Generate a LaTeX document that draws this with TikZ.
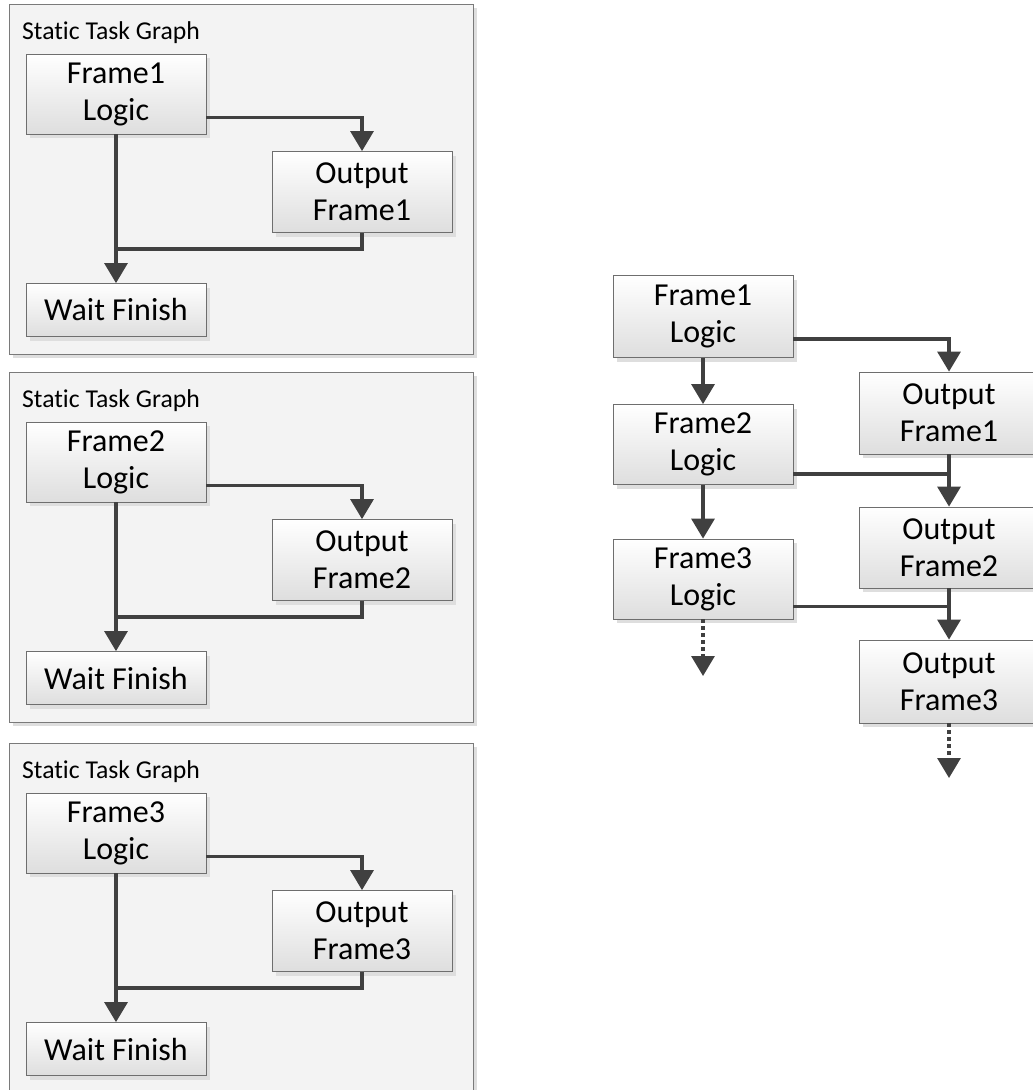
\documentclass[tikz,border=0pt]{standalone}
\usepackage{fontspec}
\setmainfont{Carlito}[Ligatures=NoCommon]
\usetikzlibrary{arrows.meta,shadows,calc}
\definecolor{linegray}{HTML}{404040}
\definecolor{boxedge}{HTML}{6E6E6E}
\definecolor{paneledge}{HTML}{7A7A7A}
\definecolor{panelfill}{HTML}{F3F3F3}
\definecolor{shade}{HTML}{DEDEDE}
\begin{document}
\begin{tikzpicture}[x=1pt,y=-1pt,
  panel/.style={draw=paneledge, line width=0.9pt, fill=panelfill,
    minimum width=464pt, minimum height=350pt, inner sep=0pt,
    drop shadow={shadow xshift=4pt, shadow yshift=-4pt, fill=shade, opacity=1}},
  title/.style={inner sep=0pt, font=\fontsize{25.7}{30}\selectfont},
  task/.style={draw=boxedge, line width=0.8pt, top color=white, bottom color=black!13,
    minimum width=180pt, inner sep=0pt, align=center,
    font=\fontsize{32}{37}\selectfont,
    drop shadow={shadow xshift=4pt, shadow yshift=-4pt, fill=shade, opacity=1}},
  link/.style={draw=linegray, line width=3.2pt},
  flow/.style={link, -{Triangle[width=23pt,length=20pt]}},
  cont/.style={flow, dash pattern=on 4pt off 3pt}]

\useasboundingbox (0,0) rectangle (1033,1090);
\fill[white] (0,0) rectangle (1033,1090);

% three static task graphs, one per frame
\foreach \k/\dy in {1/0,2/368,3/739}{
  \node[panel] (P\k) at (241,179+\dy) {};
  \node[title, anchor=base west] (T\k) at (22,39+\dy) {Static Task Graph};
  \node[task, minimum height=80pt] (L\k) at (116,94+\dy) {Frame\k\\Logic};
  \node[task, minimum height=81pt] (O\k) at (362,192+\dy) {Output\\Frame\k};
  \node[task, minimum height=53pt] (W\k) at (116,310+\dy) {Wait Finish};
  \coordinate (J\k) at (116,249+\dy);
  \draw[flow] ([yshift=17pt]L\k.south east) -| (O\k.north);
  \draw[flow] (L\k.south) -- (W\k.north);
  \draw[link] (O\k.south) |- (J\k);
}

% pipelined frames
\node[task, minimum height=82pt] (R1) at (703,316.5) {Frame1\\Logic};
\node[task, minimum height=82pt] (Q1) at (949,413) {Output\\Frame1};
\node[task, minimum height=80pt] (R2) at (703,444.5) {Frame2\\Logic};
\node[task, minimum height=81pt] (Q2) at (949,547.5) {Output\\Frame2};
\node[task, minimum height=80pt] (R3) at (703,579) {Frame3\\Logic};
\node[task, minimum height=83pt] (Q3) at (949,681.5) {Output\\Frame3};
\coordinate (E3) at (703,676);
\coordinate (F3) at (949,778);
\coordinate (M2) at ([yshift=11pt]R2.south east);
\coordinate (M3) at ([yshift=13pt]R3.south east);

\draw[flow] (R1.south) -- (R2.north);
\draw[flow] ([yshift=19pt]R1.south east) -| (Q1.north);
\draw[flow] (Q1.south) -- (Q2.north);
\draw[link] (M2) -- (M2 -| Q1.south);
\draw[flow] (R2.south) -- (R3.north);
\draw[flow] (Q2.south) -- (Q3.north);
\draw[link] (M3) -- (M3 -| Q2.south);
\draw[cont] (R3.south) -- (E3);
\draw[cont] (Q3.south) -- (F3);
\end{tikzpicture}
\end{document}
